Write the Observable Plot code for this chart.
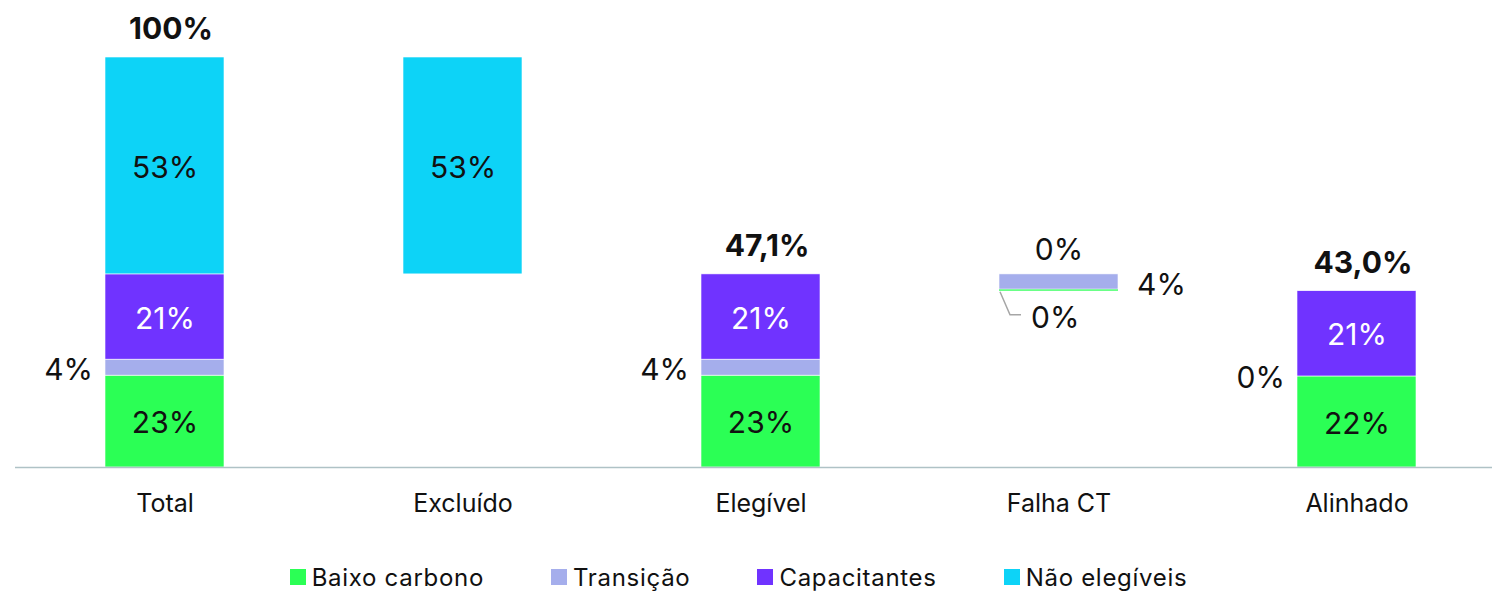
<!DOCTYPE html>
<html>
<head>
<meta charset="utf-8">
<script src="https://cdn.jsdelivr.net/npm/d3@7"></script>
<script src="https://cdn.jsdelivr.net/npm/@observablehq/plot@0.6"></script>
<style>
  body { margin: 0; background: #fff; font-family: Inter, "Noto Sans", sans-serif; }
  #chart svg { display: block; }
  #legend { display: flex; justify-content: center; gap: 67px; font-size: 24px; letter-spacing: 0.7px; color: #111; height: 30px; align-items: center; margin-top: 17px; padding-right: 15px; }
  #legend .item { display: flex; align-items: center; gap: 6px; }
  #legend .sw { width: 16px; height: 16px; display: inline-block; }
</style>
</head>
<body>
<div id="chart"></div>
<div id="legend"></div>
<script>
const categories = ["Total", "Excluído", "Elegível", "Falha CT", "Alinhado"];
const series = ["Baixo carbono", "Transição", "Capacitantes", "Não elegíveis"];
const colors = ["#2BFF55", "#A5AEEC", "#7033FF", "#0DD3F7"];
const textColors = ["#111", "#111", "#fff", "#111"];

// floating offset (waterfall base) for each category
const base = [0, 47.1, 0, 43.0, 0];
// series values (%)
const baixoCarbono = [22.4, 0, 22.4, 0.4, 22.2];
const transicao = [3.9, 0, 3.9, 3.7, 0];
const capacitantes = [20.8, 0, 20.8, 0, 20.8];
const naoElegiveis = [52.9, 52.9, 0, 0, 0];

// labels inside segments
const lblBaixo = ["23%", "", "23%", "", "22%"];
const lblCapac = ["21%", "", "21%", "", "21%"];
const lblNao = ["53%", "53%", "", "", ""];
// labels outside segments
const lblTransLeft = ["4%", "", "4%", "", ""];
const lblBaixoLeftAlinhado = ["", "", "", "", "0%"];
const lblFalhaTop = ["", "", "", "0%", ""];
const lblFalhaRight = ["", "", "", "4%", ""];
const lblFalhaBelow = ["", "", "", "0%", ""];
const totals = ["100%", "", "47,1%", "", "43,0%"];

const valueArrays = [baixoCarbono, transicao, capacitantes, naoElegiveis];
const innerLabels = [lblBaixo, null, lblCapac, lblNao];

const segs = [];
categories.forEach((c, i) => {
  let acc = base[i];
  valueArrays.forEach((arr, s) => {
    const v = arr[i];
    segs.push({cat: c, s, y1: acc, y2: acc + v, v, label: innerLabels[s] ? innerLabels[s][i] : ""});
    acc += v;
  });
});
const tops = categories.map((c, i) => ({cat: c, top: base[i] + valueArrays.reduce((a, arr) => a + arr[i], 0), label: totals[i]}));
const transSegs = segs.filter(d => d.s === 1);
const baixoSegs = segs.filter(d => d.s === 0);
const idx = d => categories.indexOf(d.cat);

const W = 1492, H = 545;
const plot = Plot.plot({
  width: W,
  height: H,
  marginTop: 57,
  marginBottom: H - 467,
  marginLeft: 15,
  marginRight: 0,
  x: {domain: categories, range: [15, 1506], paddingInner: 0.6, paddingOuter: 0.3, label: null},
  y: {domain: [0, 100], axis: null},
  style: {fontFamily: "Inter, 'Noto Sans', sans-serif", color: "#111", background: "transparent"},
  marks: [
    Plot.barY(segs.filter(d => d.v > 0), {x: "cat", y1: "y1", y2: "y2", fill: d => colors[d.s], stroke: d => d.v < 1 ? "none" : "#fff", strokeWidth: 0.6}),
    Plot.ruleY([0], {stroke: "#AFC2C6", strokeWidth: 1.5}),
    Plot.axisX({tickSize: 0, tickPadding: 27, fontSize: 25, fill: "#111", style: "letter-spacing:0.8px"}),
    Plot.text(segs.filter(d => d.label), {x: "cat", y: d => (d.y1 + d.y2) / 2, text: "label", fill: d => textColors[d.s], fontSize: 30, dy: 2}),
    Plot.text(tops.filter(d => d.label), {x: "cat", y: "top", text: "label", fontSize: 30, fontWeight: "bold", dx: 6, dy: -28}),
    Plot.text(transSegs.filter(d => lblTransLeft[idx(d)]), {x: "cat", y: d => (d.y1 + d.y2) / 2, text: d => lblTransLeft[idx(d)], fontSize: 30, textAnchor: "end", dx: -72, dy: 3}),
    Plot.text(baixoSegs.filter(d => lblBaixoLeftAlinhado[idx(d)]), {x: "cat", y: d => d.y2, text: d => lblBaixoLeftAlinhado[idx(d)], fontSize: 30, textAnchor: "end", dx: -72, dy: 2}),
    Plot.text(tops.filter(d => lblFalhaTop[idx(d)]), {x: "cat", y: "top", text: d => lblFalhaTop[idx(d)], fontSize: 30, dy: -24}),
    Plot.text(transSegs.filter(d => lblFalhaRight[idx(d)]), {x: "cat", y: d => (d.y1 + d.y2) / 2, text: d => lblFalhaRight[idx(d)], fontSize: 30, textAnchor: "start", dx: 78, dy: 3}),
    Plot.text(baixoSegs.filter(d => lblFalhaBelow[idx(d)]), {x: "cat", y: "y1", text: d => lblFalhaBelow[idx(d)], fontSize: 30, textAnchor: "start", dx: -28, dy: 27})
  ]
});
document.getElementById("chart").appendChild(plot);

// leader line for the Falha CT "0%" (Baixo carbono) label, positioned via the plot's scales
const xs = plot.scale("x"), ys = plot.scale("y");
const fi = categories.indexOf("Falha CT");
const bx = xs.apply("Falha CT");
const by = ys.apply(base[fi]);
d3.select(plot).append("path")
  .attr("d", `M${bx + 1},${by + 1} L${bx + 11},${by + 24} L${bx + 22},${by + 24}`)
  .attr("fill", "none").attr("stroke", "#A6A6A6").attr("stroke-width", 1.5);

const legend = document.getElementById("legend");
series.forEach((s, i) => {
  const it = document.createElement("div");
  it.className = "item";
  it.innerHTML = `<span class="sw" style="background:${colors[i]}"></span><span>${s}</span>`;
  legend.appendChild(it);
});
</script>
</body>
</html>
